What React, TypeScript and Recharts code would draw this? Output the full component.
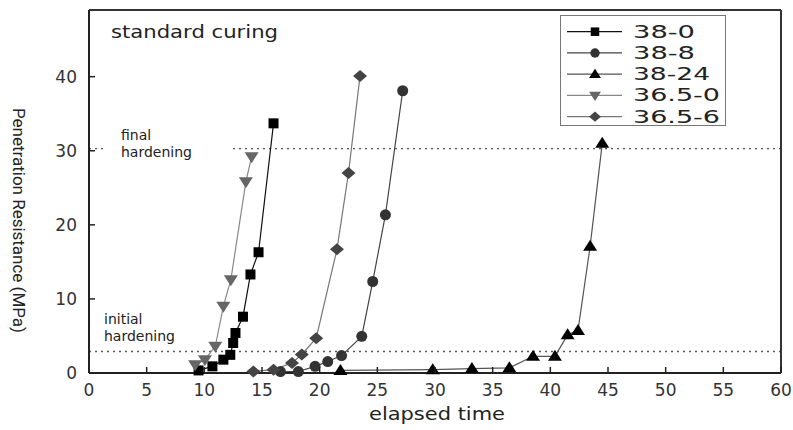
import React from 'react'
import { LineChart, Line, XAxis, YAxis, ReferenceLine, Legend, Label } from 'recharts'

const FONT = '"DejaVu Sans", Verdana, sans-serif'

const xTicks = [0, 5, 10, 15, 20, 25, 30, 35, 40, 45, 50, 55, 60]
const yTicks = [0, 10, 20, 30, 40]

// elapsed time / penetration resistance (MPa)
const time38_0 = [9.5, 10.7, 11.65, 12.25, 12.5, 12.7, 13.35, 14.0, 14.7, 16.0]
const res38_0 = [0.35, 0.9, 1.8, 2.45, 4.05, 5.4, 7.6, 13.3, 16.3, 33.7]

const time38_8 = [16.6, 18.15, 19.6, 20.7, 21.9, 23.65, 24.6, 25.7, 27.2]
const res38_8 = [0.2, 0.2, 0.9, 1.55, 2.35, 4.95, 12.35, 21.35, 38.1]

const time38_24 = [21.8, 29.8, 33.2, 36.45, 38.5, 40.4, 41.5, 42.4, 43.45, 44.5]
const res38_24 = [0.35, 0.45, 0.6, 0.7, 2.25, 2.25, 5.15, 5.75, 17.1, 31.0]

const time365_0 = [9.2, 10.05, 10.95, 11.65, 12.3, 13.6, 14.1]
const res365_0 = [1.1, 1.8, 3.6, 9.0, 12.6, 25.8, 29.2]

const time365_6 = [14.25, 16.0, 17.6, 18.45, 19.7, 21.5, 22.5, 23.5]
const res365_6 = [0.2, 0.45, 1.35, 2.5, 4.7, 16.7, 27.0, 40.1]

const initialHardening = 2.9
const finalHardening = 30.3

const zip = (xs: number[], ys: number[]) => xs.map((x, i) => ({ x, y: ys[i] }))

type Shape = 'square' | 'circle' | 'up' | 'down' | 'diamond'

const series: { name: string; data: { x: number; y: number }[]; stroke: string; fill: string; shape: Shape; textLen: number }[] = [
  { name: '38-0', data: zip(time38_0, res38_0), stroke: '#111', fill: '#000', shape: 'square', textLen: 62 },
  { name: '38-8', data: zip(time38_8, res38_8), stroke: '#444', fill: '#333', shape: 'circle', textLen: 62 },
  { name: '38-24', data: zip(time38_24, res38_24), stroke: '#555', fill: '#000', shape: 'up', textLen: 77 },
  { name: '36.5-0', data: zip(time365_0, res365_0), stroke: '#888', fill: '#666', shape: 'down', textLen: 87 },
  { name: '36.5-6', data: zip(time365_6, res365_6), stroke: '#777', fill: '#444', shape: 'diamond', textLen: 87 },
]

function Marker({ shape, cx, cy, fill, s = 1 }: { shape: Shape; cx: number; cy: number; fill: string; s?: number }) {
  if (cx == null || cy == null) return null
  switch (shape) {
    case 'square':
      return <rect x={cx - 5 * s} y={cy - 5 * s} width={10 * s} height={10 * s} fill={fill} />
    case 'circle':
      return <circle cx={cx} cy={cy} r={5.5 * s} fill={fill} />
    case 'up':
      return <polygon points={`${cx},${cy - 6.5 * s} ${cx + 7 * s},${cy + 4.5 * s} ${cx - 7 * s},${cy + 4.5 * s}`} fill={fill} />
    case 'down':
      return <polygon points={`${cx},${cy + 6.5 * s} ${cx + 7 * s},${cy - 4.5 * s} ${cx - 7 * s},${cy - 4.5 * s}`} fill={fill} />
    default:
      return <polygon points={`${cx},${cy - 6 * s} ${cx + 7 * s},${cy} ${cx},${cy + 6 * s} ${cx - 7 * s},${cy}`} fill={fill} />
  }
}

function XTick(props: any) {
  const { x, y, payload } = props
  return (
    <g>
      <line x1={x} x2={x} y1={y} y2={y - 6} stroke="#222" strokeWidth={1.5} />
      <text x={x} y={y + 23} textAnchor="middle" fontSize={17} fill="#333" fontFamily={FONT}>{payload.value}</text>
    </g>
  )
}

function YTick(props: any) {
  const { x, y, payload } = props
  return (
    <g>
      <line x1={x} x2={x + 6} y1={y} y2={y} stroke="#222" strokeWidth={1.5} />
      <text x={x - 12} y={y + 6} textAnchor="end" fontSize={17} fill="#333" fontFamily={FONT}>{payload.value}</text>
    </g>
  )
}

function LegendBox() {
  return (
    <svg width={166} height={111} style={{ display: 'block' }}>
      <rect x={0.5} y={0.5} width={165} height={110} fill="#fff" stroke="#777" />
      {series.map((s, i) => {
        const y = 16.7 + i * 21.25
        return (
          <g key={s.name}>
            <line x1={7} x2={62} y1={y} y2={y} stroke={s.stroke} strokeWidth={1.2} />
            <Marker shape={s.shape} cx={35} cy={y} fill={s.fill} s={0.85} />
            <text x={73} y={y + 6} fontSize={17} fill="#222" fontFamily={FONT} textLength={s.textLen} lengthAdjust="spacingAndGlyphs">{s.name}</text>
          </g>
        )
      })}
    </svg>
  )
}

export default function App() {
  return (
    <div style={{ position: 'absolute', left: 0, top: 0, width: 793, height: 430, background: '#fff' }}>
      <LineChart width={793} height={430} margin={{ top: 10, right: 12, left: 0, bottom: 0 }} style={{ fontFamily: FONT }}>
        <XAxis
          type="number"
          dataKey="x"
          domain={[0, 60]}
          ticks={xTicks}
          interval={0}
          tickLine={false}
          tickSize={0}
          tickMargin={0}
          tick={<XTick />}
          axisLine={{ stroke: '#222', strokeWidth: 2 }}
          height={57}
        >
          <Label
            content={() => (
              <text x={437} y={420} textAnchor="middle" fontSize={18} fill="#222" fontFamily={FONT} textLength={136} lengthAdjust="spacingAndGlyphs">elapsed time</text>
            )}
          />
        </XAxis>
        <YAxis
          type="number"
          domain={[0, 49]}
          ticks={yTicks}
          interval={0}
          tickLine={false}
          tickSize={0}
          tickMargin={0}
          tick={<YTick />}
          axisLine={{ stroke: '#222', strokeWidth: 2 }}
          width={89}
        >
          <Label
            content={(p: any) => {
              const vb = p.viewBox || { x: 0, y: 10, width: 89, height: 363 }
              const cy = vb.y + vb.height / 2 + 29
              return (
                <text x={13} y={cy} transform={`rotate(90, 13, ${cy})`} textAnchor="middle" fontSize={16} fill="#222" fontFamily="Roboto, sans-serif" textLength={225} lengthAdjust="spacingAndGlyphs">
                  Penetration Resistance (MPa)
                </text>
              )
            }}
          />
        </YAxis>

        <ReferenceLine
          y={finalHardening}
          stroke="#555"
          strokeWidth={1.3}
          strokeDasharray="2 4"
          label={(p: any) => {
            const vb = p.viewBox
            return (
              <g>
                <rect x={vb.x + 18} y={vb.y - 3} width={126} height={6} fill="#fff" />
                <text x={vb.x + 32} y={vb.y - 9} fontSize={14} fill="#222" fontFamily={FONT}>final</text>
                <text x={vb.x + 32} y={vb.y + 8} fontSize={14} fill="#222" fontFamily={FONT}>hardening</text>
              </g>
            )
          }}
        />
        <ReferenceLine
          y={initialHardening}
          stroke="#555"
          strokeWidth={1.3}
          strokeDasharray="2 4"
          label={(p: any) => {
            const vb = p.viewBox
            return (
              <g>
                <text x={vb.x + 15} y={vb.y - 28} fontSize={14} fill="#222" fontFamily={FONT}>initial</text>
                <text x={vb.x + 15} y={vb.y - 11} fontSize={14} fill="#222" fontFamily={FONT}>hardening</text>
              </g>
            )
          }}
        />
        <ReferenceLine
          y={49}
          stroke="#333"
          strokeWidth={2}
          label={(p: any) => {
            const vb = p.viewBox
            return (
              <text x={vb.x + 22} y={vb.y + 28} fontSize={17} fill="#222" fontFamily={FONT} textLength={167} lengthAdjust="spacingAndGlyphs">standard curing</text>
            )
          }}
        />
        <ReferenceLine x={60} stroke="#333" strokeWidth={2} />

        {series.map((s) => (
          <Line
            key={s.name}
            data={s.data}
            dataKey="y"
            name={s.name}
            type="linear"
            stroke={s.stroke}
            strokeWidth={1.2}
            isAnimationActive={false}
            dot={(p: any) => <Marker key={`${s.name}-${p.index}`} shape={s.shape} cx={p.cx} cy={p.cy} fill={s.fill} />}
            activeDot={false}
          />
        ))}

        <Legend
          layout="vertical"
          align="center"
          verticalAlign="middle"
          content={() => <LegendBox />}
          wrapperStyle={{ left: 560, top: 15, width: 166, height: 111 }}
        />
      </LineChart>
    </div>
  )
}
